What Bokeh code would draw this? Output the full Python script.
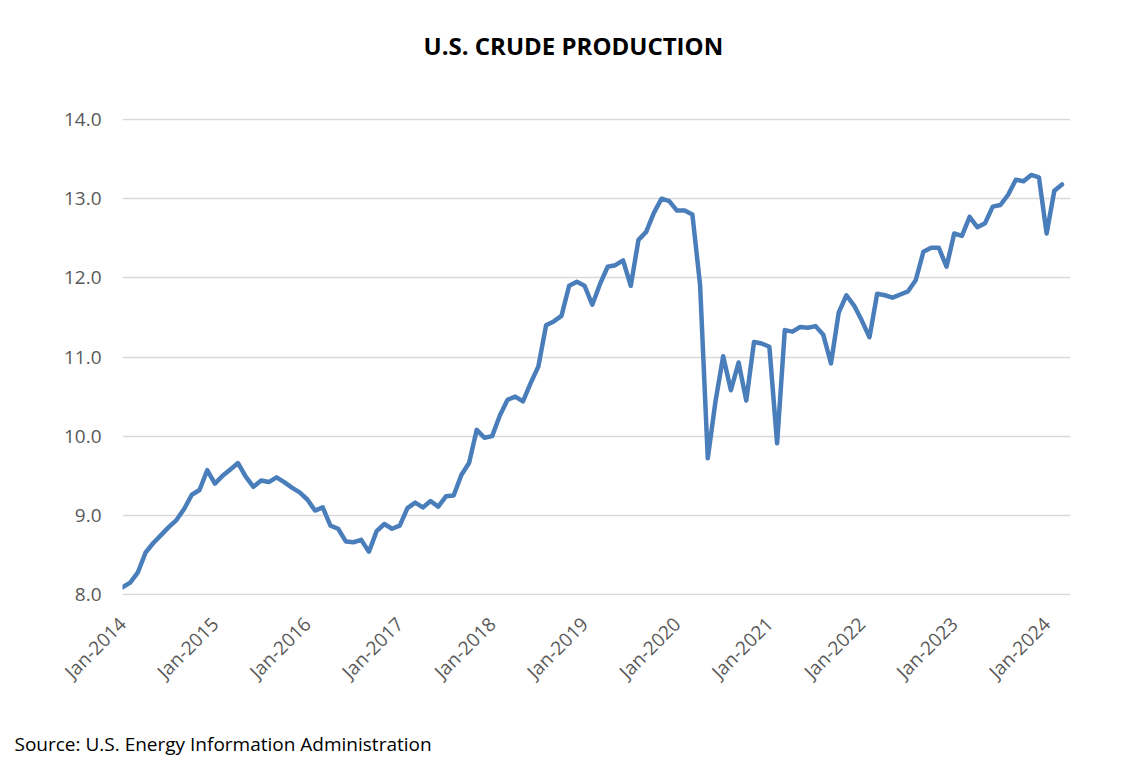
from bokeh.plotting import figure
from bokeh.models import Range1d, FixedTicker, Title, NumeralTickFormatter
from bokeh.embed import file_html
from bokeh.resources import INLINE
import math

title_text = "U.S. CRUDE PRODUCTION"
source_text = "Source: U.S. Energy Information Administration"

tick_labels = ["Jan-2014", "Jan-2015", "Jan-2016", "Jan-2017", "Jan-2018", "Jan-2019",
               "Jan-2020", "Jan-2021", "Jan-2022", "Jan-2023", "Jan-2024"]

# Monthly crude production (million b/d), Jan-2014 .. Mar-2024
prod_2014 = [8.09, 8.15, 8.28, 8.53, 8.65, 8.75, 8.85, 8.94, 9.08, 9.26, 9.32, 9.57]
prod_2015 = [9.40, 9.50, 9.58, 9.66, 9.49, 9.36, 9.44, 9.42, 9.48, 9.42, 9.35, 9.29]
prod_2016 = [9.20, 9.06, 9.10, 8.87, 8.83, 8.67, 8.66, 8.69, 8.54, 8.80, 8.89, 8.83]
prod_2017 = [8.87, 9.09, 9.16, 9.10, 9.18, 9.11, 9.24, 9.25, 9.51, 9.66, 10.08, 9.98]
prod_2018 = [10.00, 10.26, 10.46, 10.50, 10.44, 10.67, 10.88, 11.40, 11.45, 11.52, 11.90, 11.95]
prod_2019 = [11.90, 11.66, 11.92, 12.14, 12.16, 12.22, 11.90, 12.48, 12.58, 12.82, 13.00, 12.97]
prod_2020 = [12.85, 12.85, 12.80, 11.91, 9.72, 10.44, 11.01, 10.58, 10.93, 10.45, 11.19, 11.17]
prod_2021 = [11.13, 9.91, 11.34, 11.32, 11.38, 11.37, 11.39, 11.28, 10.92, 11.56, 11.78, 11.65]
prod_2022 = [11.46, 11.25, 11.80, 11.78, 11.75, 11.79, 11.83, 11.97, 12.33, 12.38, 12.38, 12.14]
prod_2023 = [12.56, 12.53, 12.77, 12.64, 12.69, 12.90, 12.92, 13.05, 13.24, 13.22, 13.30, 13.27]
prod_2024 = [12.56, 13.10, 13.18]

values = (prod_2014 + prod_2015 + prod_2016 + prod_2017 + prod_2018 + prod_2019 +
          prod_2020 + prod_2021 + prod_2022 + prod_2023 + prod_2024)
months = list(range(len(values)))

FONT = "Open Sans"
GRAY = "#595959"

p = figure(frame_width=948, frame_height=477,
           min_border_left=122, min_border_right=60, min_border_top=118, min_border_bottom=170,
           output_backend="svg", toolbar_location=None,
           x_range=Range1d(0, 123.1), y_range=Range1d(7.987, 14.013))
p.outline_line_color = None
p.background_fill_color = "white"
p.border_fill_color = "white"

# spacer between the title and the plot frame
p.add_layout(Title(text=" ", text_font_size="1px", standoff=34), "above")
p.title = Title(text=title_text, align="left", offset=301, standoff=40,
                text_font=FONT, text_font_style="bold", text_font_size="24px", text_color="black")

p.line(months, values, line_color="#4A7EBB", line_width=4.5, line_join="round", line_cap="round")

# axes
p.xaxis.ticker = FixedTicker(ticks=[12 * i for i in range(len(tick_labels))])
p.xaxis.major_label_overrides = {12 * i: lab for i, lab in enumerate(tick_labels)}
p.xaxis.major_label_orientation = math.pi / 4
p.yaxis.ticker = FixedTicker(ticks=[8, 9, 10, 11, 12, 13, 14])
p.yaxis.formatter = NumeralTickFormatter(format="0.0")
for ax in (p.xaxis, p.yaxis):
    ax.axis_line_color = None
    ax.major_tick_line_color = None
    ax.minor_tick_line_color = None
    ax.major_label_text_font = FONT
    ax.major_label_text_color = GRAY
p.xaxis.major_label_text_font_size = "19px"
p.yaxis.major_label_text_font_size = "19px"
p.xaxis.major_label_standoff = 19
p.yaxis.major_label_standoff = 15

p.xgrid.grid_line_color = None
p.ygrid.grid_line_color = "#D9D9D9"
p.ygrid.grid_line_width = 1.5

p.add_layout(Title(text=source_text, align="left", offset=-108, standoff=64,
                   text_font=FONT, text_font_style="normal", text_font_size="19px",
                   text_color="black"), "below")

open("out.html", "w").write(file_html(p, INLINE))
